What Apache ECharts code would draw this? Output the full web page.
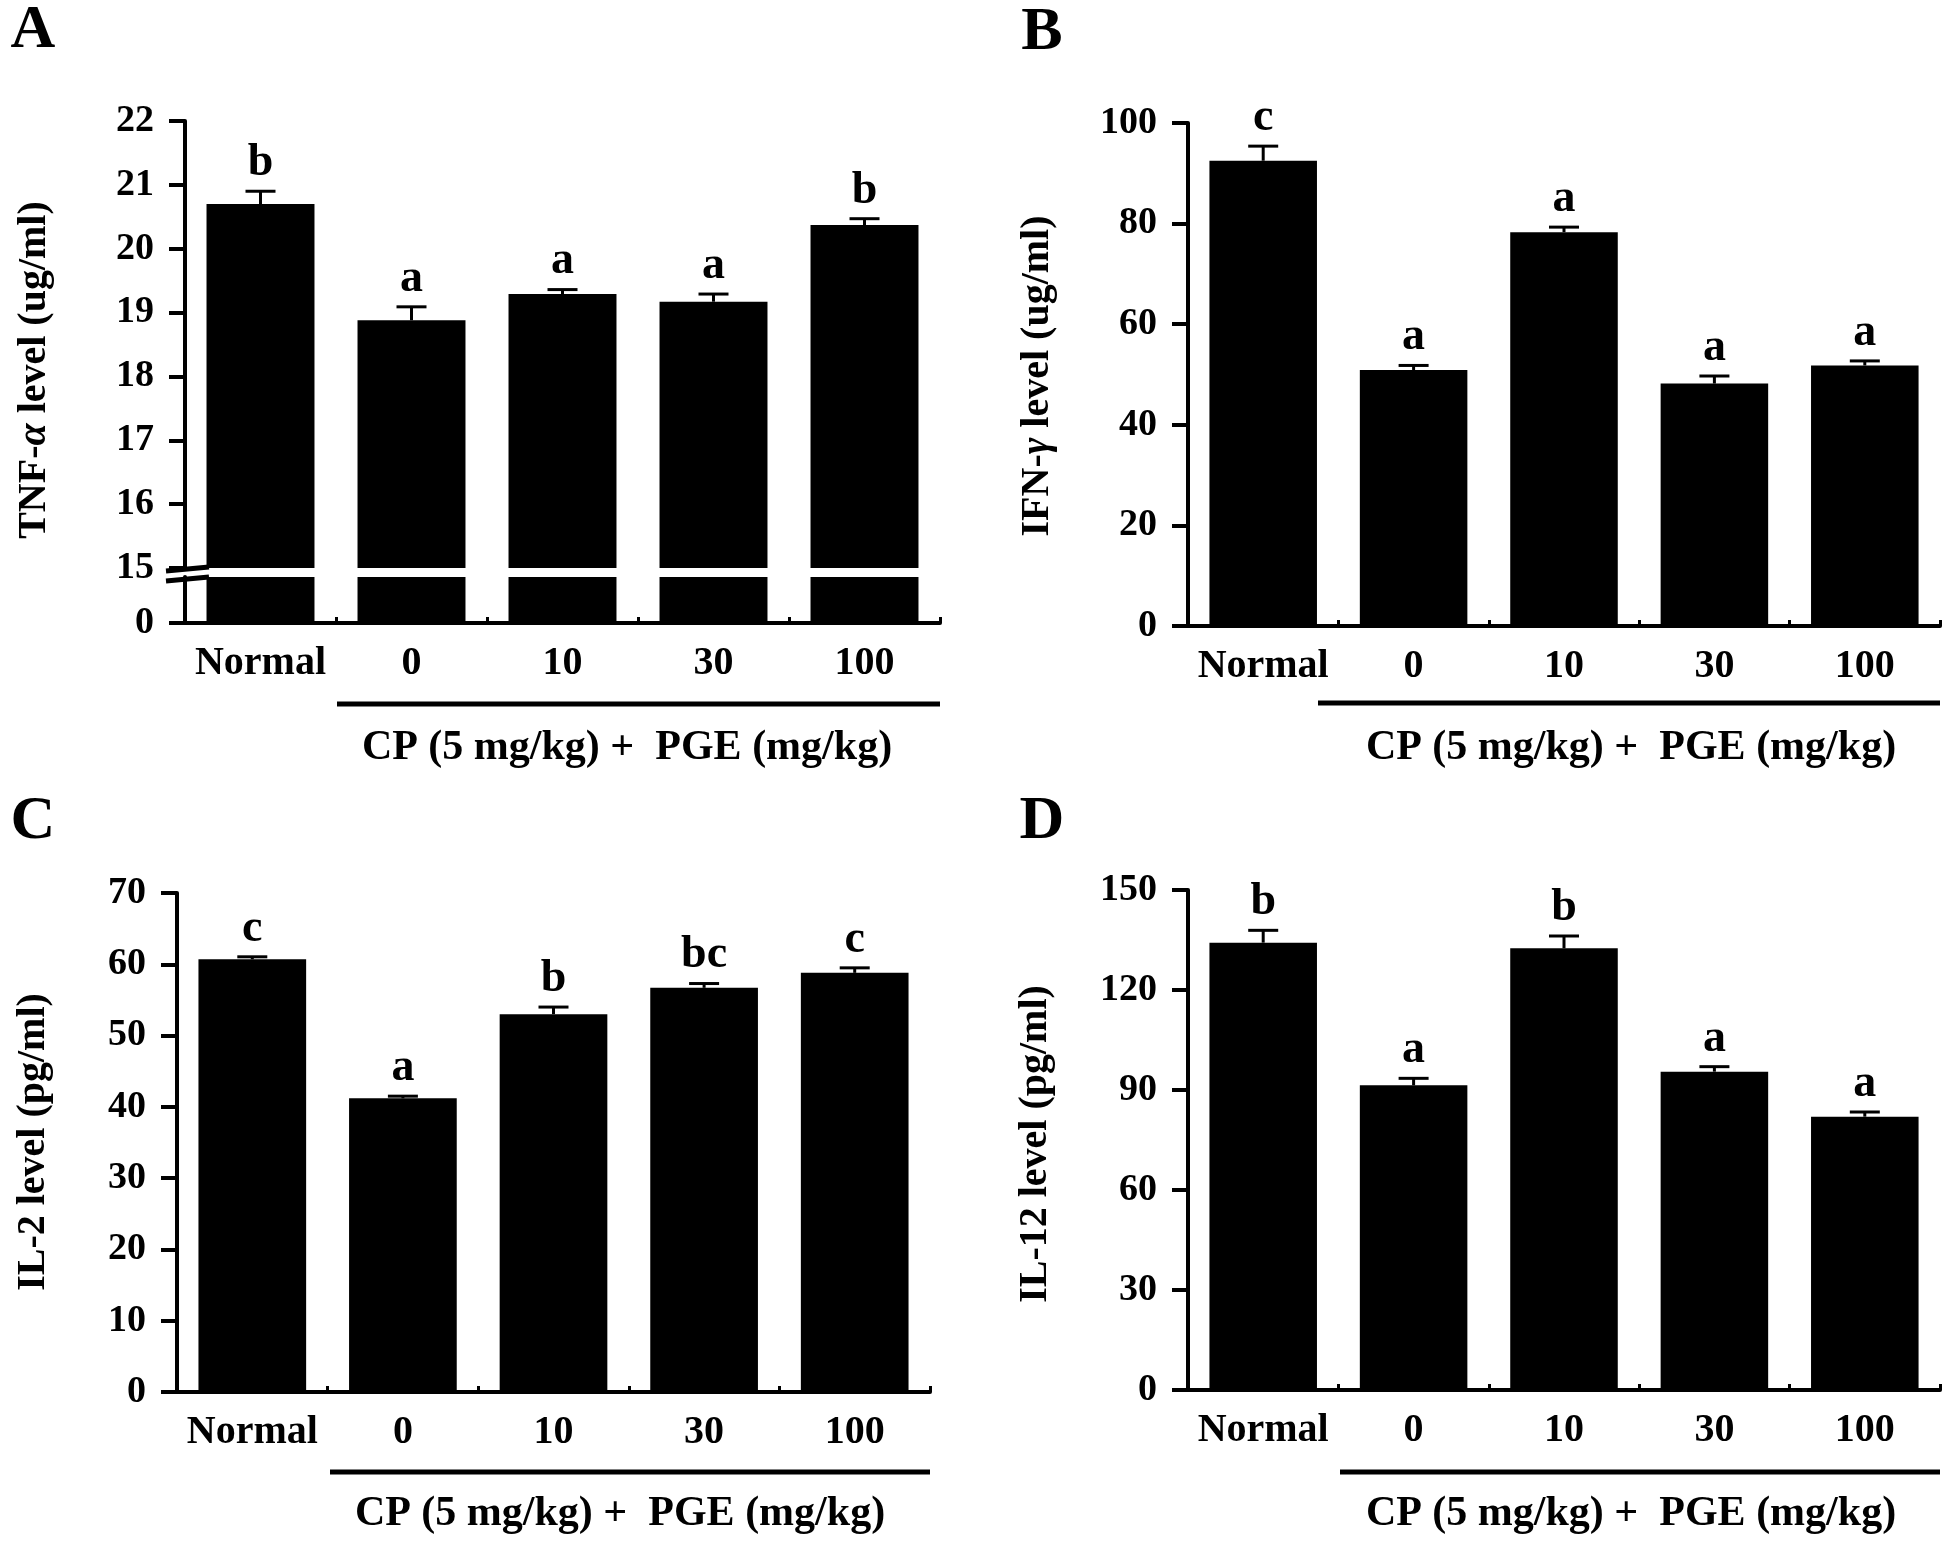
<!DOCTYPE html>
<html><head><meta charset="utf-8">
<script src="https://cdn.jsdelivr.net/npm/echarts@6/dist/echarts.min.js"></script>
<style>html,body{margin:0;padding:0;background:#fff}#c{width:1946px;height:1542px}</style>
</head><body><div id="c"></div>
<script>
// ---------- data ----------
const categories = ['Normal', '0', '10', '30', '100'];

const tnfMean  = [20.70, 18.88, 19.29, 19.17, 20.37];
const tnfErr   = [0.20, 0.21, 0.07, 0.12, 0.10];
const tnfSig   = ['b', 'a', 'a', 'a', 'b'];
const tnfTicks = [0, 15, 16, 17, 18, 19, 20, 21, 22];

const ifnMean  = [92.5, 50.9, 78.3, 48.2, 51.8];
const ifnErr   = [2.9, 0.9, 1.0, 1.5, 0.9];
const ifnSig   = ['c', 'a', 'a', 'a', 'a'];
const ifnTicks = [0, 20, 40, 60, 80, 100];

const il2Mean  = [60.7, 41.2, 53.0, 56.7, 58.8];
const il2Err   = [0.35, 0.3, 1.0, 0.6, 0.7];
const il2Sig   = ['c', 'a', 'b', 'bc', 'c'];
const il2Ticks = [0, 10, 20, 30, 40, 50, 60, 70];

const il12Mean  = [134.2, 91.4, 132.5, 95.5, 82.0];
const il12Err   = [3.7, 2.1, 3.7, 1.5, 1.4];
const il12Sig   = ['b', 'a', 'b', 'a', 'a'];
const il12Ticks = [0, 30, 60, 90, 120, 150];

const groupLabel = 'CP (5 mg/kg) +  PGE (mg/kg)';

// ---------- style ----------
const FONT = '"Liberation Serif", "Times New Roman", serif';
const BLACK = '#000';

const grids = [], xAxes = [], yAxes = [], series = [], graphics = [];

function addGrid(left, top, width, height) {
  grids.push({left, top, width, height, outerBoundsMode: 'none', containLabel: false});
  return grids.length - 1;
}
function addX(gi, show) {
  xAxes.push({
    type: 'category', gridIndex: gi, data: categories, show: show,
    axisLine: {show: true, onZero: false, lineStyle: {color: BLACK, width: 4}},
    axisTick: {show: true, inside: true, length: 6, alignWithLabel: false, lineStyle: {color: BLACK, width: 3}},
    axisLabel: {show: true, interval: 0, color: BLACK, fontFamily: FONT, fontWeight: 'bold', fontSize: 40, margin: 21},
    splitLine: {show: false}
  });
  return xAxes.length - 1;
}
function addY(gi, min, max, interval, ticks) {
  yAxes.push({
    type: 'value', gridIndex: gi, min, max, interval,
    axisLine: {show: true, lineStyle: {color: BLACK, width: 4}},
    axisTick: {show: true, inside: false, length: 16, lineStyle: {color: BLACK, width: 4}, customValues: ticks},
    axisLabel: {show: true, color: BLACK, fontFamily: FONT, fontWeight: 'bold', fontSize: 38, margin: 31, customValues: ticks},
    splitLine: {show: false}
  });
  return yAxes.length - 1;
}
function addBars(xi, yi, mean) {
  series.push({
    type: 'bar', xAxisIndex: xi, yAxisIndex: yi, data: mean,
    barWidth: '71.5%', itemStyle: {color: BLACK}, clip: true, silent: true, z: 2
  });
}
function addErr(xi, yi, mean, err, sig) {
  series.push({
    type: 'custom', xAxisIndex: xi, yAxisIndex: yi, z: 3, silent: true, clip: false,
    data: mean.map((m, i) => [i, m, err[i]]),
    renderItem: function (params, api) {
      const i = api.value(0), m = api.value(1), e = api.value(2);
      const p0 = api.coord([i, m]);
      const p1 = api.coord([i, m + e]);
      return {
        type: 'group',
        children: [
          {type: 'line', shape: {x1: p0[0], y1: p0[1], x2: p1[0], y2: p1[1]}, style: {stroke: BLACK, lineWidth: 3}},
          {type: 'line', shape: {x1: p1[0] - 15, y1: p1[1], x2: p1[0] + 15, y2: p1[1]}, style: {stroke: BLACK, lineWidth: 3}},
          {type: 'text', x: p1[0], y: p1[1] - 5,
           style: {text: sig[params.dataIndex], fill: BLACK, fontFamily: FONT, fontWeight: 'bold', fontSize: 46,
                   align: 'center', textAlign: 'center', verticalAlign: 'bottom', textVerticalAlign: 'bottom'}}
        ]
      };
    }
  });
}
function ytitle(x, y, text) {
  graphics.push({
    type: 'text', x, y, rotation: Math.PI / 2, silent: true,
    style: {text, fill: BLACK, fontFamily: FONT, fontWeight: 'bold', fontSize: 40,
            align: 'center', textAlign: 'center', verticalAlign: 'middle', textVerticalAlign: 'middle',
            rich: {i: {fontStyle: 'italic', fontWeight: 'bold', fontFamily: FONT, fontSize: 40, fill: BLACK}}}
  });
}
function panelLetter(x, y, t) {
  graphics.push({type: 'text', x, y, silent: true,
    style: {text: t, fill: BLACK, fontFamily: FONT, fontWeight: 'bold', fontSize: 62,
            align: 'center', textAlign: 'center', verticalAlign: 'middle', textVerticalAlign: 'middle'}});
}
function groupMark(x1, x2, yLine, xText, yText) {
  graphics.push({type: 'line', silent: true, shape: {x1, y1: yLine, x2, y2: yLine}, style: {stroke: BLACK, lineWidth: 5}});
  graphics.push({type: 'text', x: xText, y: yText, silent: true,
    style: {text: groupLabel, fill: BLACK, fontFamily: FONT, fontWeight: 'bold', fontSize: 42,
            align: 'center', textAlign: 'center', verticalAlign: 'middle', textVerticalAlign: 'middle'}});
}

// ---------- Panel A (broken axis: 0 | 15..22) ----------
const gAu = addGrid(185, 121, 755, 447);
const gAl = addGrid(185, 577, 755, 46);
const xAu = addX(gAu, false), xAl = addX(gAl, true);
const yAu = addY(gAu, 15, 22, 1, tnfTicks.filter(v => v >= 15));
const yAl = addY(gAl, 0, 1, 1, tnfTicks.filter(v => v < 15));
addBars(xAu, yAu, tnfMean);
addBars(xAl, yAl, tnfMean);
addErr(xAu, yAu, tnfMean, tnfErr, tnfSig);
// axis break marks
graphics.push({type: 'line', silent: true, shape: {x1: 166, y1: 571, x2: 209, y2: 567}, style: {stroke: BLACK, lineWidth: 5}, z: 10});
graphics.push({type: 'line', silent: true, shape: {x1: 166, y1: 581, x2: 209, y2: 577}, style: {stroke: BLACK, lineWidth: 5}, z: 10});
ytitle(35, 370, 'TNF-{i|α} level (ug/ml)');
panelLetter(33, 31, 'A');
groupMark(337, 940, 704, 627, 748);

// ---------- Panel B ----------
const gB = addGrid(1188, 123, 752, 503);
const xB = addX(gB, true), yB = addY(gB, 0, 100, 20, ifnTicks);
addBars(xB, yB, ifnMean);
addErr(xB, yB, ifnMean, ifnErr, ifnSig);
ytitle(1038, 376, 'IFN-{i|γ} level (ug/ml)');
panelLetter(1042, 33, 'B');
groupMark(1318, 1940, 703, 1631, 748);

// ---------- Panel C ----------
const gC = addGrid(177, 893, 753, 499);
const xC = addX(gC, true), yC = addY(gC, 0, 70, 10, il2Ticks);
addBars(xC, yC, il2Mean);
addErr(xC, yC, il2Mean, il2Err, il2Sig);
ytitle(34, 1142, 'IL-2 level (pg/ml)');
panelLetter(33, 822, 'C');
groupMark(330, 930, 1472, 620, 1514);

// ---------- Panel D ----------
const gD = addGrid(1188, 890, 752, 500);
const xD = addX(gD, true), yD = addY(gD, 0, 150, 30, il12Ticks);
addBars(xD, yD, il12Mean);
addErr(xD, yD, il12Mean, il12Err, il12Sig);
ytitle(1036, 1144, 'IL-12 level (pg/ml)');
panelLetter(1042, 822, 'D');
groupMark(1340, 1940, 1472, 1631, 1514);

const chart = echarts.init(document.getElementById('c'), null, {renderer: 'canvas'});
chart.setOption({
  backgroundColor: '#fff',
  animation: false,
  grid: grids, xAxis: xAxes, yAxis: yAxes, series: series,
  graphic: {elements: graphics}
});
</script></body></html>
